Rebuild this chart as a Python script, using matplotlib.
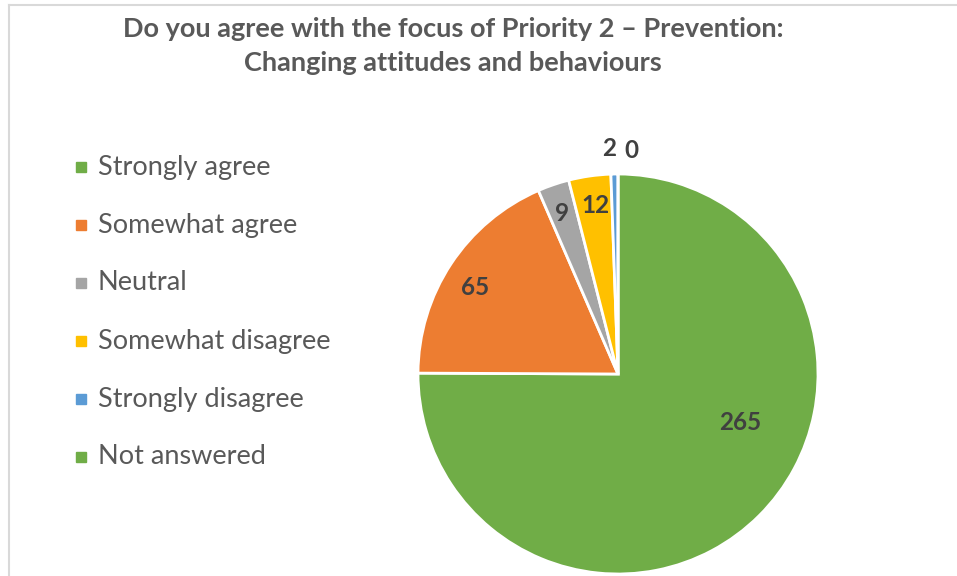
import matplotlib
matplotlib.use("Agg")
import matplotlib.pyplot as plt
from matplotlib.lines import Line2D

# Survey responses
categories = ["Strongly agree", "Somewhat agree", "Neutral",
              "Somewhat disagree", "Strongly disagree", "Not answered"]
counts = [265, 65, 9, 12, 2, 0]
colors = ["#70AD47", "#ED7D31", "#A5A5A5", "#FFC000", "#5B9BD5", "#70AD47"]
title = "Do you agree with the focus of Priority 2 \u2013 Prevention:\nChanging attitudes and behaviours"

plt.rcParams["font.family"] = ["Lato", "DejaVu Sans"]
W, H = 957, 576
fig = plt.figure(figsize=(W / 100, H / 100), dpi=100)
fig.patch.set_facecolor("white")

# Chart frame (top and left edges visible)
fig.add_artist(Line2D([8.5 / W, 8.5 / W], [0, 1 - 4.5 / H], transform=fig.transFigure,
                      color="#D9D9D9", lw=1.5))
fig.add_artist(Line2D([8.5 / W, 1], [1 - 4.5 / H, 1 - 4.5 / H], transform=fig.transFigure,
                      color="#D9D9D9", lw=1.5))

# Pie centred at (618, 374) px with radius 200 px
cx, cy, r = 618, 374, 200
ax = fig.add_axes([(cx - r) / W, (H - cy - r) / H, 2 * r / W, 2 * r / H])
wedges, _ = ax.pie(counts, colors=colors, startangle=90, counterclock=False,
                   radius=1.0, wedgeprops=dict(edgecolor="white", linewidth=2))
ax.set_xlim(-1, 1)
ax.set_ylim(-1, 1)
ax.set_aspect("equal")
ax.axis("off")

# Data labels placed in pixel positions relative to pie centre
label_pos = [(740, 423), (475, 287), (562, 213), (595, 205), (609, 148), (631, 150)]
for val, (px, py) in zip(counts, label_pos):
    ax.text((px - cx) / r, (cy - py) / r, str(val), ha="center", va="center",
            fontsize=17.5, fontweight="bold", color="#404040")

# Title
fig.text(453 / W, 1 - 46 / H, title, ha="center", va="center", fontsize=19.5,
         fontweight="bold", color="#595959", linespacing=1.5)

# Legend
y0, dy = 167, 58
for i, (cat, col) in enumerate(zip(categories, colors)):
    y = 1 - (y0 + i * dy) / H
    fig.add_artist(plt.Rectangle((76 / W, y - 5 / H), 10 / W, 10 / H,
                                 transform=fig.transFigure, color=col))
    fig.text(98 / W, y, cat, ha="left", va="center", fontsize=19.5, color="#595959")

fig.savefig("out.png", dpi=100)
